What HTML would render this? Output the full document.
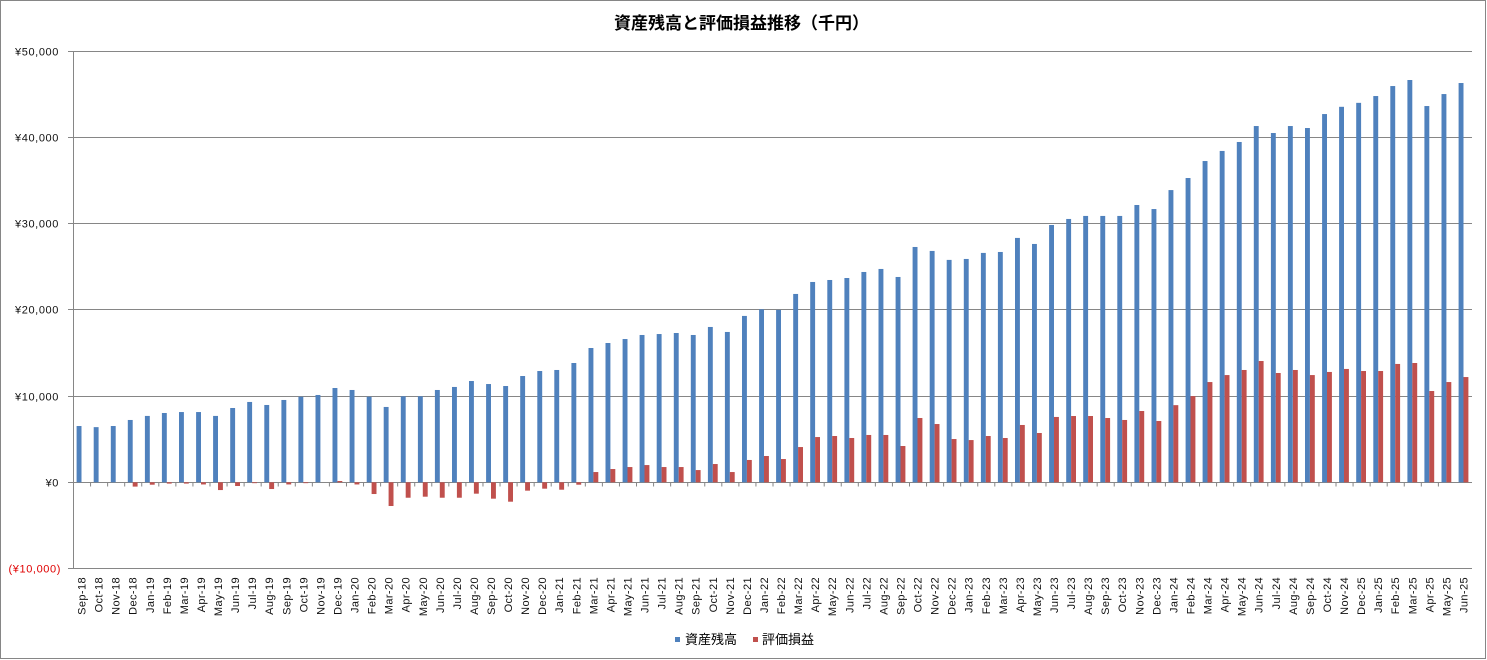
<!DOCTYPE html>
<html><head><meta charset="utf-8"><style>
html,body{margin:0;padding:0;background:#fff;}
svg{display:block;}
.yl{font-family:"Liberation Sans",sans-serif;font-size:11px;letter-spacing:0.6px;fill:#111;}
.xl{font-family:"Liberation Sans",sans-serif;font-size:11px;letter-spacing:0.4px;fill:#111;}
.cj{font-family:"Liberation Sans","Noto Sans CJK JP",sans-serif;}
</style></head><body>
<svg width="1487" height="660" viewBox="0 0 1487 660" xmlns="http://www.w3.org/2000/svg">
<rect x="0.5" y="0.5" width="1485" height="658" fill="#fff" stroke="#868686" stroke-width="1"/>
<text class="cj" x="741.5" y="29" text-anchor="middle" font-size="17" font-weight="bold" fill="#000">資産残高と評価損益推移（千円）</text>
<g stroke="#868686" stroke-width="1" fill="none">
<path d="M68 51.5H1472M68 137.5H1472M68 223.5H1472M68 309.5H1472M68 396.5H1472M68 482.5H1472M68 568.5H1472M73.5 51V569"/>
<path d="M73.5 482.5v4m17.061-4v4m17.061-4v4m17.061-4v4m17.061-4v4m17.061-4v4m17.061-4v4m17.061-4v4m17.061-4v4m17.061-4v4m17.061-4v4m17.061-4v4m17.061-4v4m17.061-4v4m17.061-4v4m17.061-4v4m17.061-4v4m17.061-4v4m17.061-4v4m17.061-4v4m17.061-4v4m17.061-4v4m17.061-4v4m17.061-4v4m17.061-4v4m17.061-4v4m17.061-4v4m17.061-4v4m17.061-4v4m17.061-4v4m17.061-4v4m17.061-4v4m17.061-4v4m17.061-4v4m17.061-4v4m17.061-4v4m17.061-4v4m17.061-4v4m17.061-4v4m17.061-4v4m17.061-4v4m17.061-4v4m17.061-4v4m17.061-4v4m17.061-4v4m17.061-4v4m17.061-4v4m17.061-4v4m17.061-4v4m17.061-4v4m17.061-4v4m17.061-4v4m17.061-4v4m17.061-4v4m17.061-4v4m17.061-4v4m17.061-4v4m17.061-4v4m17.061-4v4m17.061-4v4m17.061-4v4m17.061-4v4m17.061-4v4m17.061-4v4m17.061-4v4m17.061-4v4m17.061-4v4m17.061-4v4m17.061-4v4m17.061-4v4m17.061-4v4m17.061-4v4m17.061-4v4m17.061-4v4m17.061-4v4m17.061-4v4m17.061-4v4m17.061-4v4m17.061-4v4m17.061-4v4m17.061-4v4"/>
</g>
<g class="yl" text-anchor="end">
<text x="59" y="55.5">¥50,000</text>
<text x="59" y="141.5">¥40,000</text>
<text x="59" y="227.5">¥30,000</text>
<text x="59" y="313.5">¥20,000</text>
<text x="59" y="400.5">¥10,000</text>
<text x="59" y="486.5">¥0</text>
<text x="61" y="572.5" fill="#e00000" style="fill:#e00000">(¥10,000)</text>
</g>
<g transform="translate(0,482.3) scale(1,-0.00862)">
<g fill="#4F81BD">
<rect x="76.6" y="0" width="4.9" height="6530"/>
<rect x="93.7" y="0" width="4.9" height="6400"/>
<rect x="110.8" y="0" width="4.9" height="6530"/>
<rect x="127.8" y="0" width="4.9" height="7230"/>
<rect x="144.9" y="0" width="4.9" height="7700"/>
<rect x="161.9" y="0" width="4.9" height="8040"/>
<rect x="179.0" y="0" width="4.9" height="8150"/>
<rect x="196.1" y="0" width="4.9" height="8150"/>
<rect x="213.1" y="0" width="4.9" height="7700"/>
<rect x="230.2" y="0" width="4.9" height="8620"/>
<rect x="247.2" y="0" width="4.9" height="9320"/>
<rect x="264.3" y="0" width="4.9" height="8970"/>
<rect x="281.4" y="0" width="4.9" height="9550"/>
<rect x="298.4" y="0" width="4.9" height="9930"/>
<rect x="315.5" y="0" width="4.9" height="10130"/>
<rect x="332.5" y="0" width="4.9" height="10940"/>
<rect x="349.6" y="0" width="4.9" height="10710"/>
<rect x="366.7" y="0" width="4.9" height="9930"/>
<rect x="383.7" y="0" width="4.9" height="8740"/>
<rect x="400.8" y="0" width="4.9" height="9980"/>
<rect x="417.9" y="0" width="4.9" height="9980"/>
<rect x="434.9" y="0" width="4.9" height="10710"/>
<rect x="452.0" y="0" width="4.9" height="11060"/>
<rect x="469.0" y="0" width="4.9" height="11750"/>
<rect x="486.1" y="0" width="4.9" height="11400"/>
<rect x="503.2" y="0" width="4.9" height="11170"/>
<rect x="520.2" y="0" width="4.9" height="12330"/>
<rect x="537.3" y="0" width="4.9" height="12910"/>
<rect x="554.3" y="0" width="4.9" height="13030"/>
<rect x="571.4" y="0" width="4.9" height="13840"/>
<rect x="588.5" y="0" width="4.9" height="15580"/>
<rect x="605.5" y="0" width="4.9" height="16160"/>
<rect x="622.6" y="0" width="4.9" height="16620"/>
<rect x="639.6" y="0" width="4.9" height="17090"/>
<rect x="656.7" y="0" width="4.9" height="17200"/>
<rect x="673.8" y="0" width="4.9" height="17320"/>
<rect x="690.8" y="0" width="4.9" height="17090"/>
<rect x="707.9" y="0" width="4.9" height="18020"/>
<rect x="724.9" y="0" width="4.9" height="17440"/>
<rect x="742.0" y="0" width="4.9" height="19300"/>
<rect x="759.1" y="0" width="4.9" height="20070"/>
<rect x="776.1" y="0" width="4.9" height="20000"/>
<rect x="793.2" y="0" width="4.9" height="21850"/>
<rect x="810.2" y="0" width="4.9" height="23240"/>
<rect x="827.3" y="0" width="4.9" height="23470"/>
<rect x="844.4" y="0" width="4.9" height="23700"/>
<rect x="861.4" y="0" width="4.9" height="24400"/>
<rect x="878.5" y="0" width="4.9" height="24750"/>
<rect x="895.6" y="0" width="4.9" height="23820"/>
<rect x="912.6" y="0" width="4.9" height="27300"/>
<rect x="929.7" y="0" width="4.9" height="26840"/>
<rect x="946.7" y="0" width="4.9" height="25800"/>
<rect x="963.8" y="0" width="4.9" height="25910"/>
<rect x="980.9" y="0" width="4.9" height="26610"/>
<rect x="997.9" y="0" width="4.9" height="26720"/>
<rect x="1015.0" y="0" width="4.9" height="28350"/>
<rect x="1032.0" y="0" width="4.9" height="27650"/>
<rect x="1049.1" y="0" width="4.9" height="29850"/>
<rect x="1066.2" y="0" width="4.9" height="30550"/>
<rect x="1083.2" y="0" width="4.9" height="30900"/>
<rect x="1100.3" y="0" width="4.9" height="30900"/>
<rect x="1117.3" y="0" width="4.9" height="30900"/>
<rect x="1134.4" y="0" width="4.9" height="32170"/>
<rect x="1151.5" y="0" width="4.9" height="31700"/>
<rect x="1168.5" y="0" width="4.9" height="33900"/>
<rect x="1185.6" y="0" width="4.9" height="35300"/>
<rect x="1202.6" y="0" width="4.9" height="37270"/>
<rect x="1219.7" y="0" width="4.9" height="38440"/>
<rect x="1236.8" y="0" width="4.9" height="39480"/>
<rect x="1253.8" y="0" width="4.9" height="41330"/>
<rect x="1270.9" y="0" width="4.9" height="40520"/>
<rect x="1287.9" y="0" width="4.9" height="41330"/>
<rect x="1305.0" y="0" width="4.9" height="41100"/>
<rect x="1322.1" y="0" width="4.9" height="42720"/>
<rect x="1339.1" y="0" width="4.9" height="43560"/>
<rect x="1356.2" y="0" width="4.9" height="44020"/>
<rect x="1373.3" y="0" width="4.9" height="44810"/>
<rect x="1390.3" y="0" width="4.9" height="45970"/>
<rect x="1407.4" y="0" width="4.9" height="46670"/>
<rect x="1424.4" y="0" width="4.9" height="43650"/>
<rect x="1441.5" y="0" width="4.9" height="45040"/>
<rect x="1458.6" y="0" width="4.9" height="46320"/>
</g>
<g fill="#C0504D">
<rect x="132.7" y="-500" width="4.9" height="500"/>
<rect x="149.8" y="-280" width="4.9" height="280"/>
<rect x="166.8" y="-150" width="4.9" height="150"/>
<rect x="183.9" y="-150" width="4.9" height="150"/>
<rect x="201.0" y="-250" width="4.9" height="250"/>
<rect x="218.0" y="-900" width="4.9" height="900"/>
<rect x="235.1" y="-430" width="4.9" height="430"/>
<rect x="252.1" y="-100" width="4.9" height="100"/>
<rect x="269.2" y="-780" width="4.9" height="780"/>
<rect x="286.3" y="-250" width="4.9" height="250"/>
<rect x="303.3" y="-100" width="4.9" height="100"/>
<rect x="337.4" y="0" width="4.9" height="150"/>
<rect x="354.5" y="-250" width="4.9" height="250"/>
<rect x="371.6" y="-1360" width="4.9" height="1360"/>
<rect x="388.6" y="-2750" width="4.9" height="2750"/>
<rect x="405.7" y="-1790" width="4.9" height="1790"/>
<rect x="422.8" y="-1670" width="4.9" height="1670"/>
<rect x="439.8" y="-1790" width="4.9" height="1790"/>
<rect x="456.9" y="-1790" width="4.9" height="1790"/>
<rect x="473.9" y="-1320" width="4.9" height="1320"/>
<rect x="491.0" y="-1900" width="4.9" height="1900"/>
<rect x="508.1" y="-2250" width="4.9" height="2250"/>
<rect x="525.1" y="-970" width="4.9" height="970"/>
<rect x="542.2" y="-740" width="4.9" height="740"/>
<rect x="559.2" y="-860" width="4.9" height="860"/>
<rect x="576.3" y="-280" width="4.9" height="280"/>
<rect x="593.4" y="0" width="4.9" height="1190"/>
<rect x="610.4" y="0" width="4.9" height="1540"/>
<rect x="627.5" y="0" width="4.9" height="1770"/>
<rect x="644.5" y="0" width="4.9" height="2000"/>
<rect x="661.6" y="0" width="4.9" height="1770"/>
<rect x="678.7" y="0" width="4.9" height="1770"/>
<rect x="695.7" y="0" width="4.9" height="1420"/>
<rect x="712.8" y="0" width="4.9" height="2120"/>
<rect x="729.8" y="0" width="4.9" height="1190"/>
<rect x="746.9" y="0" width="4.9" height="2590"/>
<rect x="764.0" y="0" width="4.9" height="3050"/>
<rect x="781.0" y="0" width="4.9" height="2700"/>
<rect x="798.1" y="0" width="4.9" height="4090"/>
<rect x="815.1" y="0" width="4.9" height="5250"/>
<rect x="832.2" y="0" width="4.9" height="5370"/>
<rect x="849.3" y="0" width="4.9" height="5140"/>
<rect x="866.3" y="0" width="4.9" height="5490"/>
<rect x="883.4" y="0" width="4.9" height="5490"/>
<rect x="900.5" y="0" width="4.9" height="4210"/>
<rect x="917.5" y="0" width="4.9" height="7460"/>
<rect x="934.6" y="0" width="4.9" height="6760"/>
<rect x="951.6" y="0" width="4.9" height="5020"/>
<rect x="968.7" y="0" width="4.9" height="4900"/>
<rect x="985.8" y="0" width="4.9" height="5370"/>
<rect x="1002.8" y="0" width="4.9" height="5140"/>
<rect x="1019.9" y="0" width="4.9" height="6650"/>
<rect x="1036.9" y="0" width="4.9" height="5720"/>
<rect x="1054.0" y="0" width="4.9" height="7580"/>
<rect x="1071.1" y="0" width="4.9" height="7690"/>
<rect x="1088.1" y="0" width="4.9" height="7690"/>
<rect x="1105.2" y="0" width="4.9" height="7460"/>
<rect x="1122.2" y="0" width="4.9" height="7230"/>
<rect x="1139.3" y="0" width="4.9" height="8270"/>
<rect x="1156.4" y="0" width="4.9" height="7110"/>
<rect x="1173.4" y="0" width="4.9" height="8950"/>
<rect x="1190.5" y="0" width="4.9" height="10000"/>
<rect x="1207.5" y="0" width="4.9" height="11630"/>
<rect x="1224.6" y="0" width="4.9" height="12440"/>
<rect x="1241.7" y="0" width="4.9" height="13030"/>
<rect x="1258.7" y="0" width="4.9" height="14070"/>
<rect x="1275.8" y="0" width="4.9" height="12680"/>
<rect x="1292.9" y="0" width="4.9" height="13030"/>
<rect x="1309.9" y="0" width="4.9" height="12440"/>
<rect x="1327.0" y="0" width="4.9" height="12800"/>
<rect x="1344.0" y="0" width="4.9" height="13150"/>
<rect x="1361.1" y="0" width="4.9" height="12910"/>
<rect x="1378.2" y="0" width="4.9" height="12910"/>
<rect x="1395.2" y="0" width="4.9" height="13730"/>
<rect x="1412.3" y="0" width="4.9" height="13840"/>
<rect x="1429.3" y="0" width="4.9" height="10590"/>
<rect x="1446.4" y="0" width="4.9" height="11630"/>
<rect x="1463.5" y="0" width="4.9" height="12210"/>
</g>
</g>
<g class="xl" text-anchor="end">
<text transform="translate(85.5,577) rotate(-90)">Sep-18</text>
<text transform="translate(102.6,577) rotate(-90)">Oct-18</text>
<text transform="translate(119.7,577) rotate(-90)">Nov-18</text>
<text transform="translate(136.7,577) rotate(-90)">Dec-18</text>
<text transform="translate(153.8,577) rotate(-90)">Jan-19</text>
<text transform="translate(170.8,577) rotate(-90)">Feb-19</text>
<text transform="translate(187.9,577) rotate(-90)">Mar-19</text>
<text transform="translate(205.0,577) rotate(-90)">Apr-19</text>
<text transform="translate(222.0,577) rotate(-90)">May-19</text>
<text transform="translate(239.1,577) rotate(-90)">Jun-19</text>
<text transform="translate(256.1,577) rotate(-90)">Jul-19</text>
<text transform="translate(273.2,577) rotate(-90)">Aug-19</text>
<text transform="translate(290.3,577) rotate(-90)">Sep-19</text>
<text transform="translate(307.3,577) rotate(-90)">Oct-19</text>
<text transform="translate(324.4,577) rotate(-90)">Nov-19</text>
<text transform="translate(341.4,577) rotate(-90)">Dec-19</text>
<text transform="translate(358.5,577) rotate(-90)">Jan-20</text>
<text transform="translate(375.6,577) rotate(-90)">Feb-20</text>
<text transform="translate(392.6,577) rotate(-90)">Mar-20</text>
<text transform="translate(409.7,577) rotate(-90)">Apr-20</text>
<text transform="translate(426.8,577) rotate(-90)">May-20</text>
<text transform="translate(443.8,577) rotate(-90)">Jun-20</text>
<text transform="translate(460.9,577) rotate(-90)">Jul-20</text>
<text transform="translate(477.9,577) rotate(-90)">Aug-20</text>
<text transform="translate(495.0,577) rotate(-90)">Sep-20</text>
<text transform="translate(512.1,577) rotate(-90)">Oct-20</text>
<text transform="translate(529.1,577) rotate(-90)">Nov-20</text>
<text transform="translate(546.2,577) rotate(-90)">Dec-20</text>
<text transform="translate(563.2,577) rotate(-90)">Jan-21</text>
<text transform="translate(580.3,577) rotate(-90)">Feb-21</text>
<text transform="translate(597.4,577) rotate(-90)">Mar-21</text>
<text transform="translate(614.4,577) rotate(-90)">Apr-21</text>
<text transform="translate(631.5,577) rotate(-90)">May-21</text>
<text transform="translate(648.5,577) rotate(-90)">Jun-21</text>
<text transform="translate(665.6,577) rotate(-90)">Jul-21</text>
<text transform="translate(682.7,577) rotate(-90)">Aug-21</text>
<text transform="translate(699.7,577) rotate(-90)">Sep-21</text>
<text transform="translate(716.8,577) rotate(-90)">Oct-21</text>
<text transform="translate(733.8,577) rotate(-90)">Nov-21</text>
<text transform="translate(750.9,577) rotate(-90)">Dec-21</text>
<text transform="translate(768.0,577) rotate(-90)">Jan-22</text>
<text transform="translate(785.0,577) rotate(-90)">Feb-22</text>
<text transform="translate(802.1,577) rotate(-90)">Mar-22</text>
<text transform="translate(819.1,577) rotate(-90)">Apr-22</text>
<text transform="translate(836.2,577) rotate(-90)">May-22</text>
<text transform="translate(853.3,577) rotate(-90)">Jun-22</text>
<text transform="translate(870.3,577) rotate(-90)">Jul-22</text>
<text transform="translate(887.4,577) rotate(-90)">Aug-22</text>
<text transform="translate(904.5,577) rotate(-90)">Sep-22</text>
<text transform="translate(921.5,577) rotate(-90)">Oct-22</text>
<text transform="translate(938.6,577) rotate(-90)">Nov-22</text>
<text transform="translate(955.6,577) rotate(-90)">Dec-22</text>
<text transform="translate(972.7,577) rotate(-90)">Jan-23</text>
<text transform="translate(989.8,577) rotate(-90)">Feb-23</text>
<text transform="translate(1006.8,577) rotate(-90)">Mar-23</text>
<text transform="translate(1023.9,577) rotate(-90)">Apr-23</text>
<text transform="translate(1040.9,577) rotate(-90)">May-23</text>
<text transform="translate(1058.0,577) rotate(-90)">Jun-23</text>
<text transform="translate(1075.1,577) rotate(-90)">Jul-23</text>
<text transform="translate(1092.1,577) rotate(-90)">Aug-23</text>
<text transform="translate(1109.2,577) rotate(-90)">Sep-23</text>
<text transform="translate(1126.2,577) rotate(-90)">Oct-23</text>
<text transform="translate(1143.3,577) rotate(-90)">Nov-23</text>
<text transform="translate(1160.4,577) rotate(-90)">Dec-23</text>
<text transform="translate(1177.4,577) rotate(-90)">Jan-24</text>
<text transform="translate(1194.5,577) rotate(-90)">Feb-24</text>
<text transform="translate(1211.5,577) rotate(-90)">Mar-24</text>
<text transform="translate(1228.6,577) rotate(-90)">Apr-24</text>
<text transform="translate(1245.7,577) rotate(-90)">May-24</text>
<text transform="translate(1262.7,577) rotate(-90)">Jun-24</text>
<text transform="translate(1279.8,577) rotate(-90)">Jul-24</text>
<text transform="translate(1296.9,577) rotate(-90)">Aug-24</text>
<text transform="translate(1313.9,577) rotate(-90)">Sep-24</text>
<text transform="translate(1331.0,577) rotate(-90)">Oct-24</text>
<text transform="translate(1348.0,577) rotate(-90)">Nov-24</text>
<text transform="translate(1365.1,577) rotate(-90)">Dec-25</text>
<text transform="translate(1382.2,577) rotate(-90)">Jan-25</text>
<text transform="translate(1399.2,577) rotate(-90)">Feb-25</text>
<text transform="translate(1416.3,577) rotate(-90)">Mar-25</text>
<text transform="translate(1433.3,577) rotate(-90)">Apr-25</text>
<text transform="translate(1450.4,577) rotate(-90)">May-25</text>
<text transform="translate(1467.5,577) rotate(-90)">Jun-25</text>
</g>
<rect x="675" y="637" width="5" height="5" fill="#4F81BD"/>
<text class="cj" x="685" y="644" font-size="13" fill="#000">資産残高</text>
<rect x="753" y="637" width="5" height="5" fill="#C0504D"/>
<text class="cj" x="762" y="644" font-size="13" fill="#000">評価損益</text>
</svg>
</body></html>
